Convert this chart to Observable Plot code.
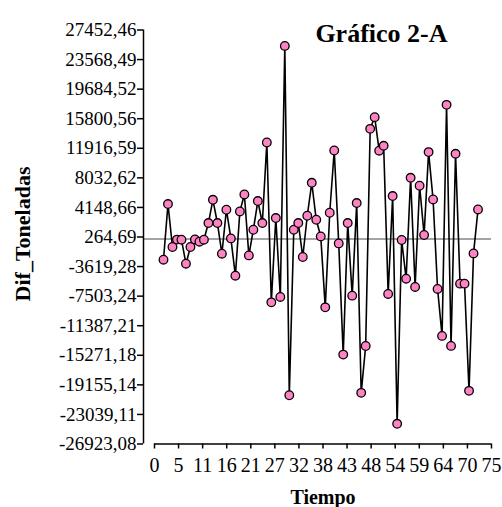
<!DOCTYPE html>
<html>
<head>
<meta charset="utf-8">
<script src="https://cdn.jsdelivr.net/npm/d3@7"></script>
<script src="https://cdn.jsdelivr.net/npm/@observablehq/plot@0.6"></script>
<style>
  html, body { margin: 0; padding: 0; background: white; }
</style>
</head>
<body>
<div id="chart"></div>
<script>
// Time index of each observation
const tiempo = d3.range(2, 73);

// Differenced tonnage series (Dif_Toneladas)
const difToneladas = [
  -2716, 4592, -1050, -80, -90, -3240, -1050, -60, -350, -90,
  2100, 5150, 2100, -1930, 3844, 80, -4815, 3621, 5851, -2152,
  1220, 4985, 2099, 12674, -8318, 2755, -7610, 25361, -20520, 1220,
  2099, -2362, 3057, 7386, 2532, 341, -8974, 3450, 11624, -577,
  -15180, 2099, -7439, 4723, -20205, -14050, 14471, 16006, 11600, 12241,
  -7216, 5641, -24272, -131, -5209, 8043, -6298, 6993, 525, 11414,
  5196, -6560, -12726, 17620, -14038, 11191, -5865, -5865, -19942, -1889,
  3884
];

// Axis ticks
const yTicks = [
  27452.46, 23568.49, 19684.52, 15800.56, 11916.59, 8032.62, 4148.66, 264.69,
  -3619.28, -7503.24, -11387.21, -15271.18, -19155.14, -23039.11, -26923.08
];
const xTicks = d3.range(15).map(i => i * 75 / 14);
const xTickLabels = [0, 5, 11, 16, 21, 27, 32, 38, 43, 48, 54, 59, 64, 70, 75];

const titulo = "Gráfico 2-A";
const etiquetaX = "Tiempo";
const etiquetaY = "Dif_Toneladas";

const data = tiempo.map((t, i) => ({t, v: difToneladas[i]}));
const yMin = d3.min(yTicks), yMax = d3.max(yTicks);

const chart = Plot.plot({
  width: 502,
  height: 507,
  marginLeft: 154,
  marginRight: 11,
  marginTop: 29.5,
  marginBottom: 63.5,
  style: {fontFamily: "'Liberation Serif', 'Times New Roman', serif", fontSize: "19px", color: "black", background: "white"},
  x: {domain: [0, 75]},
  y: {domain: [yMin, yMax]},
  marks: [
    // reference line at zero
    Plot.ruleY([0], {stroke: "#858585", strokeWidth: 1.6, insetLeft: -11}),
    // axis lines
    Plot.ruleX([0], {dx: -11, stroke: "black", strokeWidth: 1.5}),
    Plot.ruleY([yMin], {stroke: "black", strokeWidth: 1.5}),
    Plot.axisY({
      ticks: yTicks,
      tickFormat: d => d.toFixed(2).replace(".", ","),
      tickSize: 6, tickPadding: 1, dx: -11, label: null,
      fontSize: 19, strokeWidth: 1.5
    }),
    Plot.axisX({
      ticks: xTicks,
      tickFormat: (d, i) => xTickLabels[i],
      tickSize: 5, tickPadding: 9, label: null,
      fontSize: 20, strokeWidth: 1.5
    }),
    Plot.line(data, {x: "t", y: "v", stroke: "black", strokeWidth: 1.6}),
    Plot.dot(data, {x: "t", y: "v", r: 4.3, fill: "#ff82c4", stroke: "black", strokeWidth: 1.3}),
    Plot.text([titulo], {frameAnchor: "top-right", dx: -44, dy: 4, lineAnchor: "middle", fontSize: 26, fontWeight: "bold"}),
    Plot.text([etiquetaX], {frameAnchor: "bottom", dy: 54, lineAnchor: "middle", fontSize: 20, fontWeight: "bold"}),
    Plot.text([etiquetaY], {frameAnchor: "left", dx: -132, dy: -3, rotate: -90, textAnchor: "middle", lineAnchor: "middle", fontSize: 22, fontWeight: "bold"})
  ]
});

document.getElementById("chart").appendChild(chart);
</script>
</body>
</html>
